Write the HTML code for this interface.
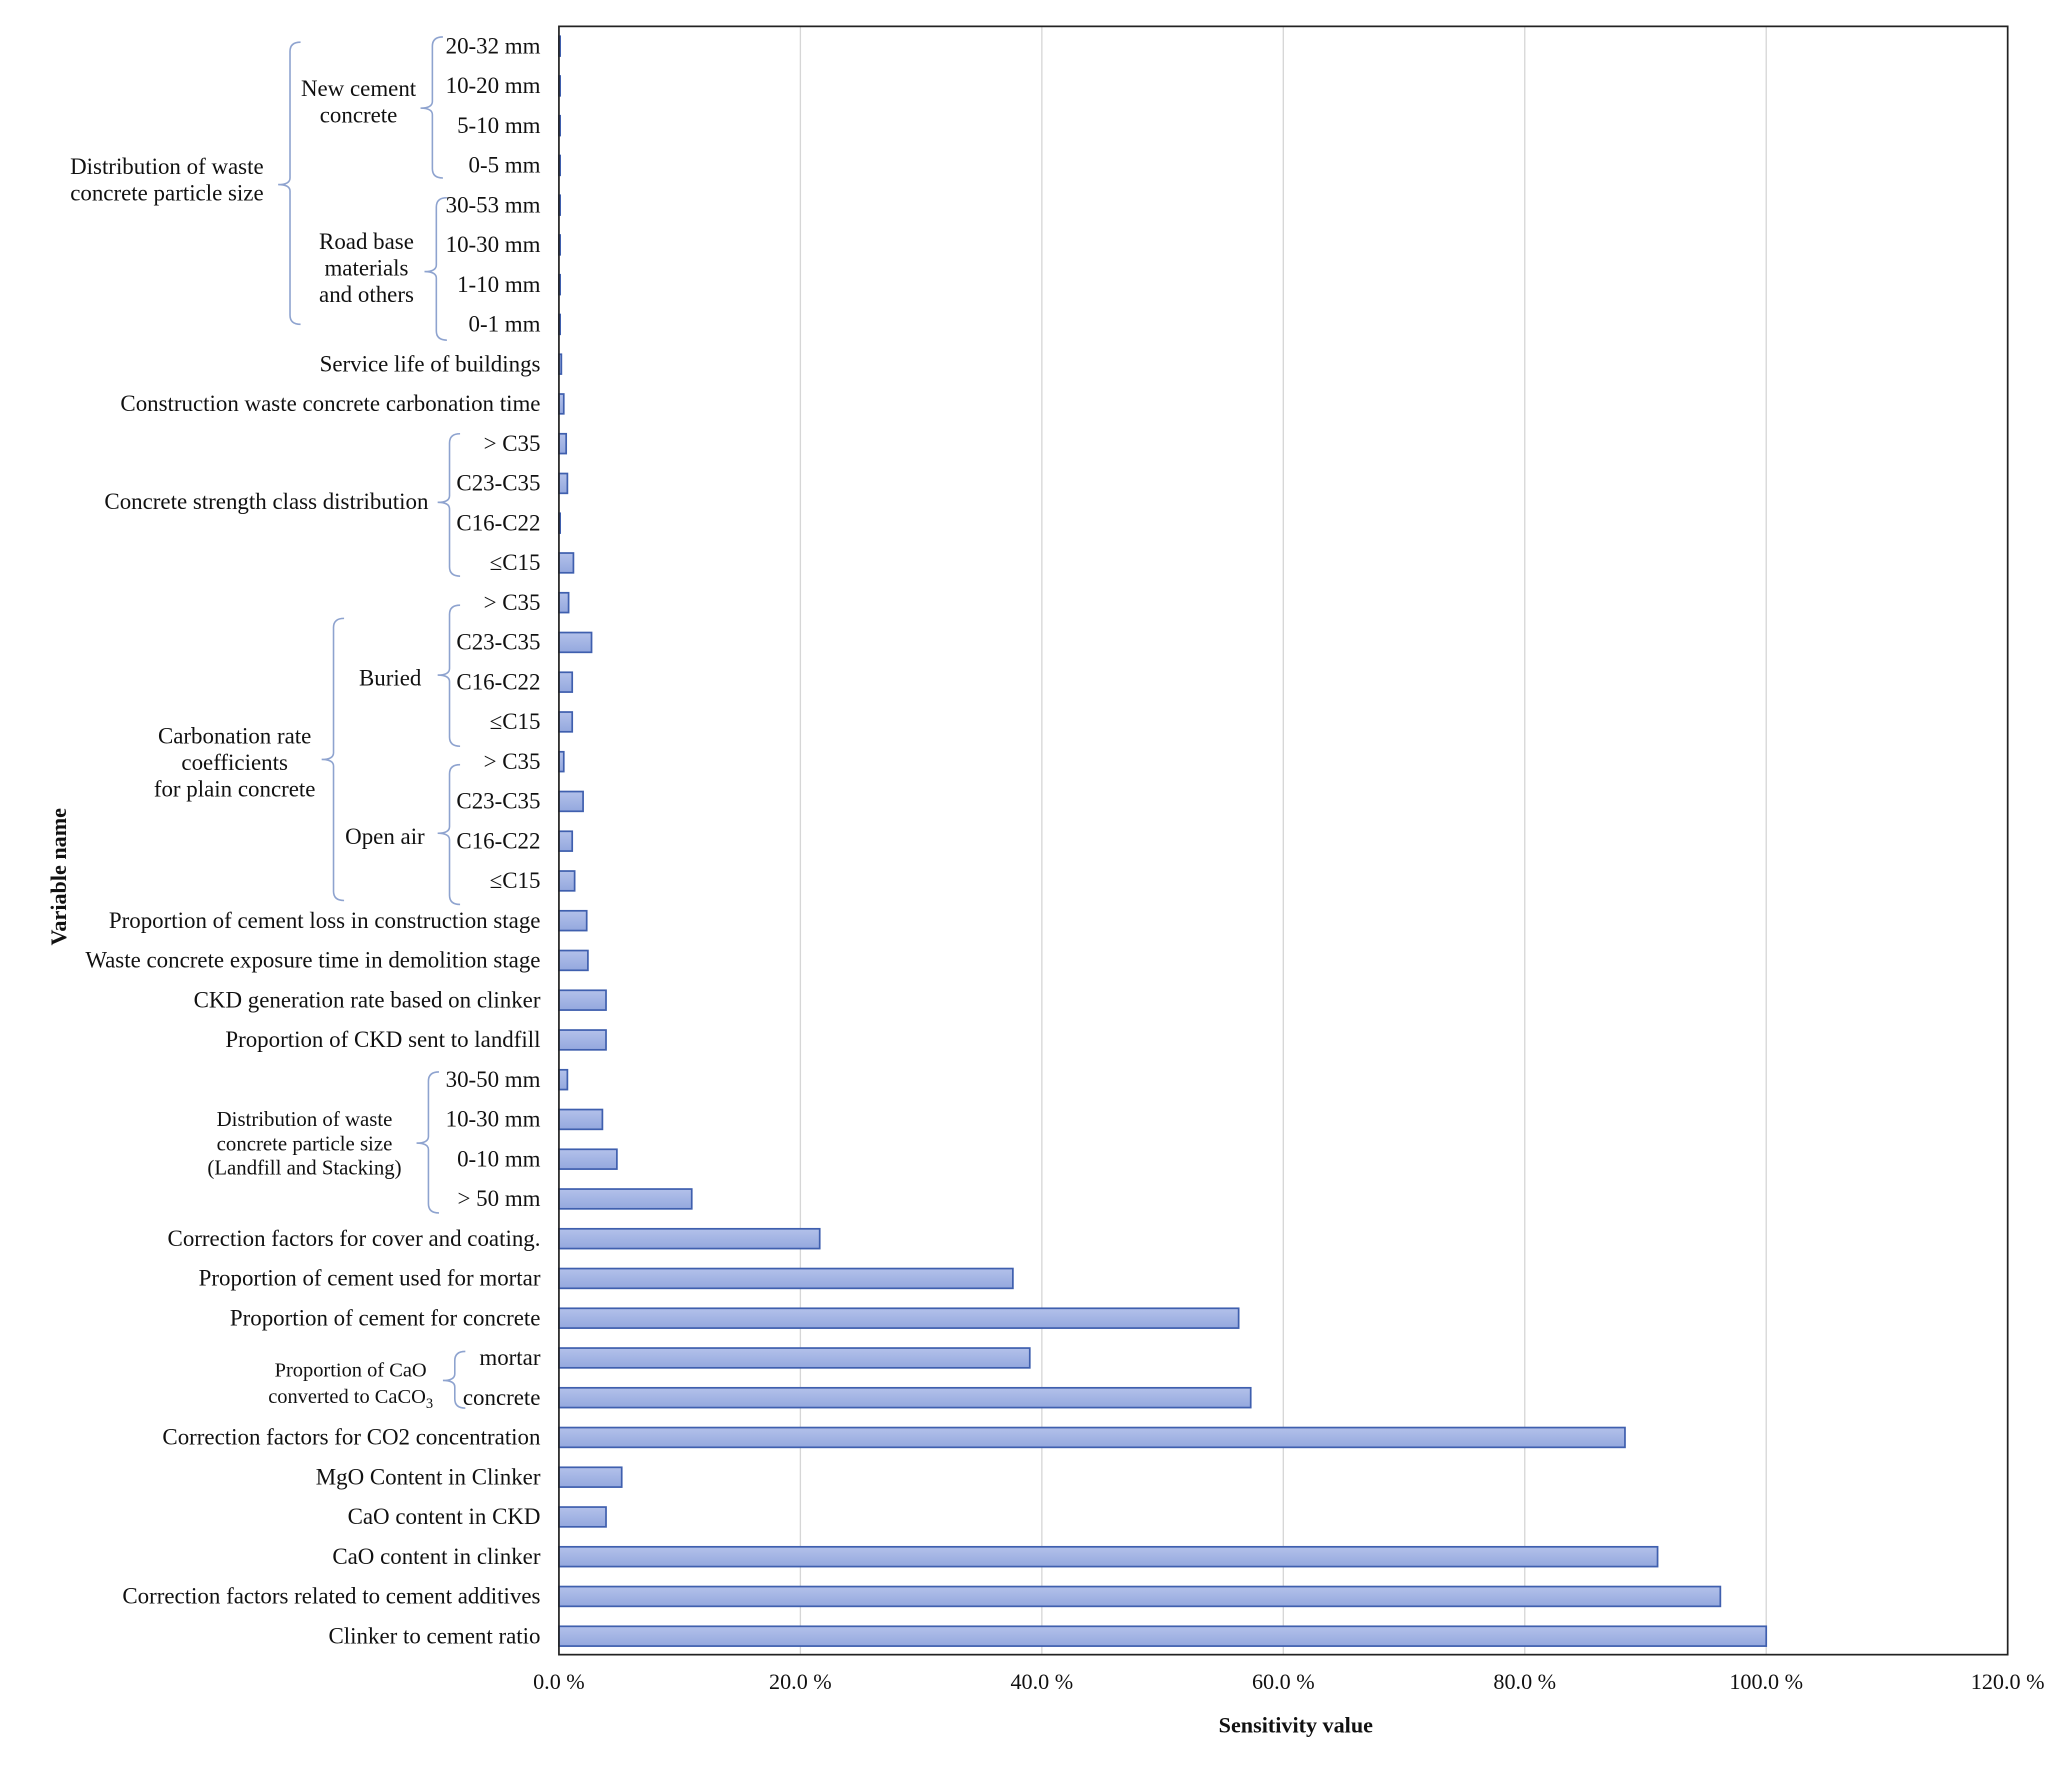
<!DOCTYPE html>
<html><head><meta charset="utf-8"><style>
html,body{margin:0;padding:0;background:#fff}
svg{display:block}
text{font-family:"Liberation Serif",serif;fill:#111}
</style></head><body>
<svg id="chart" width="2067" height="1772" viewBox="0 0 1568 1344" preserveAspectRatio="none" xmlns="http://www.w3.org/2000/svg">
<defs><linearGradient id="bg" x1="0" y1="0" x2="0" y2="1"><stop offset="0" stop-color="#b3c1ea"/><stop offset="1" stop-color="#94a8de"/></linearGradient></defs>
<g id="grid"></g>
<g id="bars"></g>
<g id="labels"></g>
<g id="xticks"></g>
<g id="groups"></g>
<rect x="424" y="20" width="1099" height="1235" fill="none" stroke="#222" stroke-width="1.3"/>
<text x="983" y="1314" text-anchor="middle" font-size="16.8" font-weight="bold">Sensitivity value</text>
<text transform="translate(50,665) rotate(-90)" text-anchor="middle" font-size="16.8" font-weight="bold">Variable name</text>
</svg>
<script>
const categories=["20-32 mm","10-20 mm","5-10 mm","0-5 mm","30-53 mm","10-30 mm","1-10 mm","0-1 mm","Service life of buildings","Construction waste concrete carbonation time","> C35","C23-C35","C16-C22","≤C15","> C35","C23-C35","C16-C22","≤C15","> C35","C23-C35","C16-C22","≤C15","Proportion of cement loss in construction stage ","Waste concrete exposure time in demolition stage","CKD generation rate based on clinker","Proportion of CKD sent to landfill","30-50 mm","10-30 mm","0-10 mm","> 50 mm","Correction factors for cover and coating.","Proportion of cement used for mortar","Proportion of cement for concrete","mortar","concrete","Correction factors for CO2 concentration","MgO Content in Clinker","CaO content in CKD","CaO content in clinker","Correction factors related to cement additives","Clinker to cement ratio"];
const values=[0.1,0.1,0.1,0.1,0.1,0.1,0.1,0.1,0.2,0.4,0.6,0.7,0.1,1.2,0.8,2.7,1.1,1.1,0.4,2.0,1.1,1.3,2.3,2.4,3.9,3.9,0.7,3.6,4.8,11.0,21.6,37.6,56.3,39.0,57.3,88.3,5.2,3.9,91.0,96.2,100.0];
const tickValues=[0,20,40,60,80,100,120];
const tickLabels=["0.0 %","20.0 %","40.0 %","60.0 %","80.0 %","100.0 %","120.0 %"];
const NS="http://www.w3.org/2000/svg";
const X0=424,X1=1523,XMAX=120,Y0=35,STEP=30.15,BH=15;
const xs=v=>X0+(X1-X0)*v/XMAX;
const ys=i=>Y0+i*STEP;
function mk(t,a,p){const e=document.createElementNS(NS,t);for(const k in a)e.setAttribute(k,a[k]);p.appendChild(e);return e;}
const grid=document.getElementById('grid'),bars=document.getElementById('bars'),labels=document.getElementById('labels'),xt=document.getElementById('xticks'),groups=document.getElementById('groups');
tickValues.forEach((v,i)=>{
 if(v>0&&v<XMAX){const l=mk('line',{x1:xs(v),x2:xs(v),y1:20,y2:1255,stroke:'#d6d6d6','stroke-width':1},grid);
 
 }
 const t=mk('text',{x:xs(v),y:1281,'text-anchor':'middle','font-size':16.8},xt);t.textContent=tickLabels[i];
 
 
});
categories.forEach((c,i)=>{
 const y=ys(i);
 const r=mk('rect',{x:X0,y:y-BH/2,width:Math.max(xs(values[i])-X0,0.8),height:BH,fill:'url(#bg)',stroke:'#3f5fae','stroke-width':1.3},bars);
 
 
 const t=mk('text',{x:410,y:y+5.5,'text-anchor':'end','font-size':17.4},labels);t.textContent=c;
 
 
});
function brace(x,top,bot,mid,name){
 const d=`M${x+8},${top} Q${x},${top} ${x},${top+7} L${x},${mid-5} Q${x},${mid} ${x-9},${mid} Q${x},${mid} ${x},${mid+5} L${x},${bot-7} Q${x},${bot} ${x+8},${bot}`;
 const p=mk('path',{d:d,fill:'none',stroke:'#8ea3cf','stroke-width':1.2},groups);
 
 
}
function gl(lines,x,y0,dy,anchor,fs,name){
 lines.forEach((s,k)=>{const t=mk('text',{x:x,y:y0+k*dy,'text-anchor':anchor,'font-size':fs},groups);t.innerHTML=s;
 
 });
}
brace(220,32,246,140,'bracket-waste-particle');
gl(["Distribution of waste","concrete particle size"],200,132,20,'end',17.4,'group-label-waste-particle');
brace(328,28,135,82,'bracket-new-cement');
gl(["New cement","concrete"],272,73,20,'middle',17.4,'group-label-new-cement');
brace(331,150,258,206,'bracket-road-base');
gl(["Road base","materials","and others"],278,189,20,'middle',17.4,'group-label-road-base');
brace(341,329,437,381,'bracket-strength-class');
gl(["Concrete strength class distribution"],325,386,20,'end',17.4,'group-label-strength-class');
brace(253,469,683,576,'bracket-carbonation-rate');
gl(["Carbonation rate","coefficients","for plain concrete"],178,564,20,'middle',17.4,'group-label-carbonation-rate');
brace(341,459,566,512,'bracket-buried');
gl(["Buried"],296,520,20,'middle',17.4,'group-label-buried');
brace(341,580,686,632,'bracket-open-air');
gl(["Open air"],292,640,20,'middle',17.4,'group-label-open-air');
brace(325,813,920,867,'bracket-landfill-particle');
gl(["Distribution of waste","concrete  particle size","(Landfill and Stacking)"],231,854,18.5,'middle',15.8,'group-label-landfill-particle');
brace(345,1025,1068,1047,'bracket-cao-conversion');
gl(["Proportion of CaO","converted to CaCO<tspan font-size='11' dy='4'>3</tspan>"],266,1044,20,'middle',15.5,'group-label-cao-conversion');
</script>
</body></html>
